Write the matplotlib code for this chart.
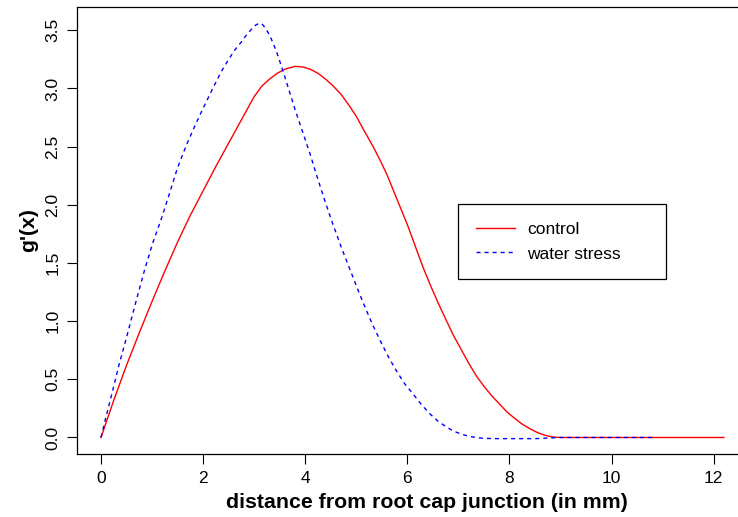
import matplotlib
matplotlib.use("Agg")
import matplotlib.pyplot as plt

# ---- data ----
control_x = [0, 0.25, 0.5, 0.75, 1.0, 1.25, 1.5, 1.75, 2.0, 2.25, 2.5, 2.75,
             3.0, 3.15, 3.3, 3.45, 3.6, 3.8, 3.95, 4.1, 4.25, 4.4, 4.55, 4.7,
             4.85, 5.0, 5.15, 5.33, 5.47, 5.6, 5.73, 5.86, 6.0, 6.15, 6.31,
             6.45, 6.6, 6.77, 6.9, 7.05, 7.2, 7.35, 7.5, 7.65, 7.8, 7.95, 8.1,
             8.25, 8.4, 8.55, 8.7, 8.85, 9.0, 12.2]
control_y = [0, 0.32, 0.62, 0.90, 1.17, 1.43, 1.68, 1.91, 2.12, 2.33, 2.53,
             2.73, 2.93, 3.02, 3.08, 3.13, 3.165, 3.19, 3.185, 3.165, 3.13,
             3.08, 3.02, 2.95, 2.86, 2.76, 2.64, 2.50, 2.38, 2.26, 2.12, 1.98,
             1.83, 1.65, 1.46, 1.31, 1.16, 1.00, 0.88, 0.76, 0.64, 0.53, 0.44,
             0.36, 0.29, 0.22, 0.165, 0.115, 0.075, 0.042, 0.018, 0.004, 0.0,
             0.0]

stress_x = [0, 0.1, 0.21, 0.35, 0.5, 0.68, 0.86, 1.02, 1.19, 1.35, 1.5, 1.67,
            1.84, 2.0, 2.2, 2.35, 2.5, 2.62, 2.75, 2.85, 2.95, 3.03, 3.1, 3.15,
            3.2, 3.26, 3.31, 3.38, 3.45, 3.52, 3.6, 3.7, 3.8, 3.9, 4.0, 4.1,
            4.19, 4.35, 4.52, 4.71, 4.88, 5.04, 5.2, 5.33, 5.46, 5.62, 5.79,
            5.95, 6.12, 6.28, 6.45, 6.6, 6.77, 6.9, 7.05, 7.2, 7.35, 7.5, 7.8,
            8.5, 9.0, 10.85]
stress_y = [0, 0.18, 0.37, 0.62, 0.86, 1.16, 1.45, 1.68, 1.89, 2.11, 2.32,
            2.51, 2.68, 2.83, 3.01, 3.14, 3.25, 3.33, 3.40, 3.46, 3.51, 3.545,
            3.56, 3.555, 3.53, 3.49, 3.45, 3.38, 3.30, 3.21, 3.10, 2.96, 2.82,
            2.69, 2.56, 2.43, 2.30, 2.08, 1.86, 1.63, 1.44, 1.26, 1.09, 0.96,
            0.84, 0.70, 0.57, 0.46, 0.37, 0.28, 0.20, 0.14, 0.09, 0.055, 0.03,
            0.01, 0.0, -0.008, -0.01, -0.01, 0.0, 0.0]

series_labels = ["control", "water stress"]
x_ticks = [0, 2, 4, 6, 8, 10, 12]
y_ticks = [0.0, 0.5, 1.0, 1.5, 2.0, 2.5, 3.0, 3.5]
x_label = "distance from root cap junction (in mm)"
y_label = "g'(x)"

plt.rcParams['font.family'] = ['Liberation Sans', 'DejaVu Sans']

W, H = 738, 517
fig = plt.figure(figsize=(W / 100, H / 100), dpi=100)
# the plot region of the reference runs past the right edge of the picture
left, right, top, bottom = 77, 777, 7, 454
ax = fig.add_axes([left / W, 1 - bottom / H, (right - left) / W, (bottom - top) / H])

ax.plot(control_x, control_y, color="red", lw=1.0, label=series_labels[0])
ax.plot(stress_x, stress_y, color="blue", lw=1.0, dashes=(2.9, 2.9),
        label=series_labels[1])

ax.set_xlim(-0.47, 13.24)
ax.set_ylim(-0.142, 3.70)
ax.set_xticks(x_ticks)
ax.set_xticklabels([str(t) for t in x_ticks])
ax.set_yticks(y_ticks)
ax.set_yticklabels([f"{t:.1f}" for t in y_ticks], rotation=90, va="center")

ax.tick_params(direction="out", length=7, width=0.8, labelsize=12.5, pad=5,
               colors="black")
for s in ax.spines.values():
    s.set_linewidth(0.9)
    s.set_color("black")

ax.set_xlabel(x_label, fontsize=15.3, fontweight="bold", labelpad=5)
ax.set_ylabel(y_label, fontsize=15.3, fontweight="bold", labelpad=5)

# legend box position (pixels -> axes fraction)
lx0, ly0, lx1, ly1 = 458.3, 204.3, 666, 282.3
bx = (lx0 - left) / (right - left)
by = (bottom - ly1) / (bottom - top)
bw = (lx1 - lx0) / (right - left)
bh = (ly1 - ly0) / (bottom - top)
leg = ax.legend(loc="upper left", bbox_to_anchor=(bx, by, bw, bh),
                mode="expand", borderaxespad=0, fontsize=12.5, fancybox=False,
                framealpha=1, edgecolor="black", borderpad=1.0,
                handlelength=2.25, handletextpad=0.72, labelspacing=0.55)
leg.get_frame().set_linewidth(0.9)

fig.savefig("out.png", dpi=100)
